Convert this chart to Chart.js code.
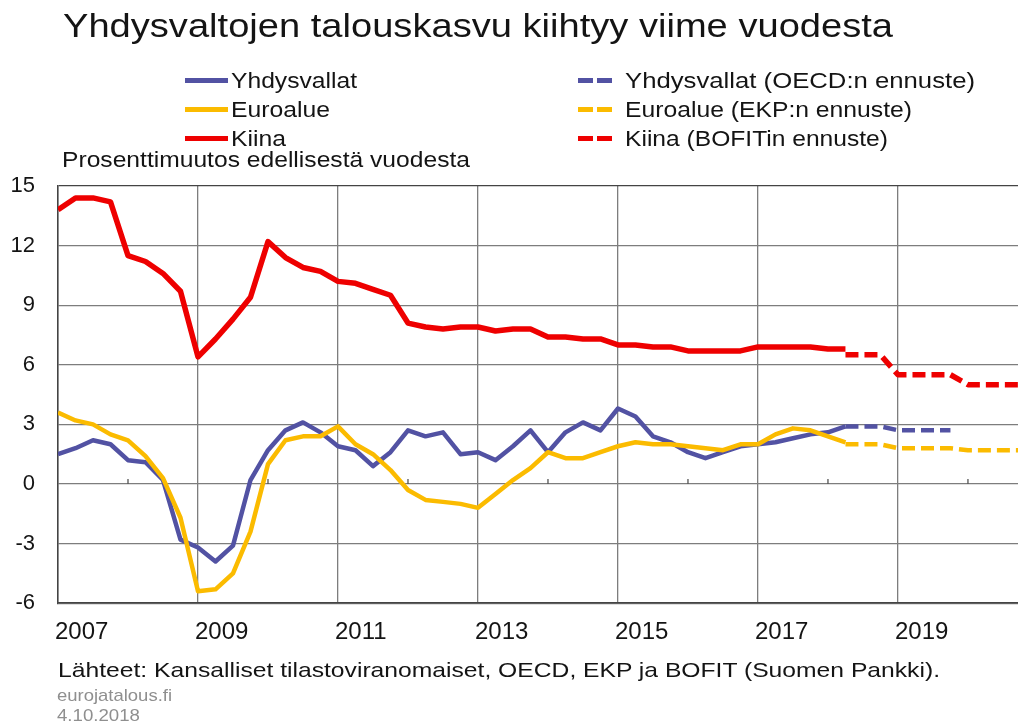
<!DOCTYPE html>
<html>
<head>
<meta charset="utf-8">
<script src="https://cdn.jsdelivr.net/npm/chart.js@4.4.1/dist/chart.umd.min.js"></script>
<style>
  body { margin: 0; background: #fff; font-family: Arial, "Liberation Sans", sans-serif; color: #141414; }
  #wrap { position: relative; width: 1018px; height: 722px; overflow: hidden; }
  #c { position: absolute; left: 0; top: 0; }
  .t { position: absolute; white-space: nowrap; line-height: 1; transform-origin: 0 0; }
  .leg { font-size: 22px; }
  .sw { position: absolute; height: 5px; }
</style>
</head>
<body>
<div id="wrap">
  <canvas id="c" width="1018" height="722"></canvas>

  <div class="t fit" data-w="830" style="left:63px; top:8px; font-size:34px;">Yhdysvaltojen talouskasvu kiihtyy viime vuodesta</div>

  <!-- legend, left column: actuals -->
  <div class="sw" style="left:185px; top:78px; width:43px; background:#5252a3;"></div>
  <div class="sw" style="left:185px; top:107px; width:43px; background:#fbbb00;"></div>
  <div class="sw" style="left:185px; top:136px; width:43px; background:#ee0000;"></div>
  <div class="t leg fit" data-w="126" style="left:231px; top:70px;">Yhdysvallat</div>
  <div class="t leg fit" data-w="99" style="left:231px; top:99px;">Euroalue</div>
  <div class="t leg fit" data-w="55" style="left:231px; top:128px;">Kiina</div>

  <!-- legend, right column: forecasts -->
  <div class="sw" style="left:578px; top:78px; width:15px; background:#5252a3;"></div>
  <div class="sw" style="left:597px; top:78px; width:15px; background:#5252a3;"></div>
  <div class="sw" style="left:578px; top:107px; width:15px; background:#fbbb00;"></div>
  <div class="sw" style="left:597px; top:107px; width:15px; background:#fbbb00;"></div>
  <div class="sw" style="left:578px; top:136px; width:15px; background:#ee0000;"></div>
  <div class="sw" style="left:597px; top:136px; width:15px; background:#ee0000;"></div>
  <div class="t leg fit" data-w="350" style="left:625px; top:70px;">Yhdysvallat (OECD:n ennuste)</div>
  <div class="t leg fit" data-w="287" style="left:625px; top:99px;">Euroalue (EKP:n ennuste)</div>
  <div class="t leg fit" data-w="263" style="left:625px; top:128px;">Kiina (BOFITin ennuste)</div>

  <div class="t leg fit" data-w="408" style="left:62px; top:149px;">Prosenttimuutos edellisestä vuodesta</div>

  <div class="t fit" data-w="882" style="left:58px; top:659px; font-size:21px;">Lähteet: Kansalliset tilastoviranomaiset, OECD, EKP ja BOFIT (Suomen Pankki).</div>
  <div class="t fit" data-w="115" style="left:57px; top:687px; font-size:17px; color:#8f8f8f;">eurojatalous.fi</div>
  <div class="t fit" data-w="83" style="left:57px; top:707px; font-size:17px; color:#8f8f8f;">4.10.2018</div>
</div>

<script>
// quarterly year-on-year growth, index 0 = 2007Q1
const firstYear = 2007;
const usActual = [1.5, 1.8, 2.2, 2.0, 1.2, 1.1, 0.2, -2.8,
  -3.2, -3.9, -3.1, 0.2, 1.7, 2.7, 3.1, 2.6,
  1.9, 1.7, 0.9, 1.6, 2.7, 2.4, 2.6, 1.5,
  1.6, 1.2, 1.9, 2.7, 1.6, 2.6, 3.1, 2.7,
  3.8, 3.4, 2.4, 2.1, 1.6, 1.3, 1.6, 1.9,
  2.0, 2.1, 2.3, 2.5, 2.6, 2.9];
const euroActual = [3.6, 3.2, 3.0, 2.5, 2.2, 1.4, 0.3, -1.7,
  -5.4, -5.3, -4.5, -2.4, 1.0, 2.2, 2.4, 2.4,
  2.9, 2.0, 1.5, 0.7, -0.3, -0.8, -0.9, -1.0,
  -1.2, -0.5, 0.2, 0.8, 1.6, 1.3, 1.3, 1.6,
  1.9, 2.1, 2.0, 2.0, 1.9, 1.8, 1.7, 2.0,
  2.0, 2.5, 2.8, 2.7, 2.4, 2.1];
const chinaActual = [13.8, 14.4, 14.4, 14.2, 11.5, 11.2, 10.6, 9.7,
  6.4, 7.3, 8.3, 9.4, 12.2, 11.4, 10.9, 10.7,
  10.2, 10.1, 9.8, 9.5, 8.1, 7.9, 7.8, 7.9,
  7.9, 7.7, 7.8, 7.8, 7.4, 7.4, 7.3, 7.3,
  7.0, 7.0, 6.9, 6.9, 6.7, 6.7, 6.7, 6.7,
  6.9, 6.9, 6.9, 6.9, 6.8, 6.8];

// forecasts start at 2018Q2
const forecastStart = 45;
const usForecast = [2.9, 2.9, 2.9, 2.7, 2.7, 2.7, 2.7];
const euroForecast = [2.0, 2.0, 2.0, 1.8, 1.8, 1.8, 1.8, 1.7, 1.7, 1.7, 1.7];
const chinaForecast = [6.5, 6.5, 6.5, 5.5, 5.5, 5.5, 5.5, 5.0, 5.0, 5.0, 5.0];

const yearLabels = [2007, 2009, 2011, 2013, 2015, 2017, 2019];
const evenYears = [2008, 2010, 2012, 2014, 2016, 2018, 2020];
const yMin = -6, yMax = 15, yStep = 3;

const BLUE = '#5252a3', YELLOW = '#fbbb00', RED = '#ee0000';

// stretch html text to the widths seen in the picture
document.querySelectorAll('.fit').forEach(el => {
  const w = el.getBoundingClientRect().width;
  el.style.transform = 'scaleX(' + (el.dataset.w / w) + ')';
});

function pts(values, start) {
  return values.map((v, k) => ({ x: start + k, y: v }));
}

function line(values, start, color, width, dashed, order) {
  return {
    data: pts(values, start),
    borderColor: color,
    borderWidth: width,
    borderDash: dashed ? [13, 6] : [],
    borderJoinStyle: 'round',
    pointRadius: 0,
    tension: 0,
    order: order
  };
}

// little marks on the zero line at even-year boundaries
const zeroTicks = {
  id: 'zeroTicks',
  beforeDatasetsDraw(chart) {
    const x = chart.scales.x, y = chart.scales.y;
    const y0 = y.getPixelForValue(0);
    const ctx = chart.ctx;
    ctx.save();
    ctx.strokeStyle = '#555';
    ctx.lineWidth = 1.3;
    evenYears.forEach(yr => {
      const px = x.getPixelForValue((yr - firstYear) * 4);
      if (px > x.right) return;
      ctx.beginPath();
      ctx.moveTo(px, y0);
      ctx.lineTo(px, y0 - 5);
      ctx.stroke();
    });
    ctx.restore();
  }
};

new Chart(document.getElementById('c'), {
  type: 'line',
  data: {
    datasets: [
      line(euroActual, 0, YELLOW, 4.5, false, 1),
      line(usActual, 0, BLUE, 4.5, false, 2),
      line(chinaActual, 0, RED, 5.5, false, 3),
      line(euroForecast, forecastStart, YELLOW, 4.5, true, 1),
      line(usForecast, forecastStart, BLUE, 4.5, true, 2),
      line(chinaForecast, forecastStart, RED, 5.5, true, 3)
    ]
  },
  options: {
    responsive: false,
    animation: false,
    layout: { padding: { left: 10, top: 186, right: 0, bottom: 60 } },
    plugins: { legend: { display: false }, tooltip: { enabled: false } },
    scales: {
      x: {
        type: 'linear',
        min: 0,
        max: 54.86,
        afterBuildTicks: axis => {
          axis.ticks = yearLabels.map(yr => ({ value: (yr - firstYear) * 4 }));
        },
        ticks: {
          callback: v => String(firstYear + v / 4),
          color: '#141414',
          font: { family: 'Arial, "Liberation Sans"', size: 24 },
          padding: 15,
          align: 'start',
          labelOffset: -3,
          maxRotation: 0,
          autoSkip: false
        },
        grid: { color: '#7d7d7d', lineWidth: 1.3, drawTicks: false },
        border: { color: '#444', width: 1.5 }
      },
      y: {
        min: yMin,
        max: yMax,
        afterFit: axis => { axis.width = 48; },
        ticks: {
          stepSize: yStep,
          color: '#141414',
          font: { family: 'Arial, "Liberation Sans"', size: 22 },
          padding: 23
        },
        grid: {
          color: c => c.tick.value === yMax ? '#444' : '#7d7d7d',
          lineWidth: 1.3,
          drawTicks: false
        },
        border: { color: '#444', width: 1.5 }
      }
    }
  },
  plugins: [zeroTicks]
});
</script>
</body>
</html>
